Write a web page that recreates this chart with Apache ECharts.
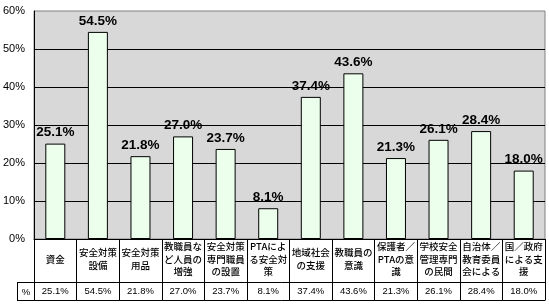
<!DOCTYPE html>
<html>
<head>
<meta charset="utf-8">
<script src="https://cdn.jsdelivr.net/npm/echarts@6/dist/echarts.min.js"></script>
<style>
html,body{margin:0;padding:0;background:#fff;}
#chart{width:549px;height:308px;}
</style>
</head>
<body>
<div id="chart"></div>
<script>
const categories = ['資金','安全対策\n設備','安全対策\n用品','教職員な\nど人員の\n増強','安全対策\n専門職員\nの設置','PTAによ\nる安全対\n策','地域社会\nの支援','教職員の\n意識','保護者／\nPTAの意\n識','学校安全\n管理専門\nの民間','自治体／\n教育委員\n会による','国／政府\nによる支\n援'];
const values = [25.1, 54.5, 21.8, 27.0, 23.7, 8.1, 37.4, 43.6, 21.3, 26.1, 28.4, 18.0];
const yMin = 0, yMax = 60, yStep = 10;
const rowLabel = '%';

const W = 549, H = 308;
const G = { left: 34, right: 4, top: 11, bottom: 69 };
const axisY = H - G.bottom;      // 239
const row1 = axisY + 43;         // 282
const row2 = axisY + 61;         // 300
const tableLeft = 17;

const chart = echarts.init(document.getElementById('chart'), null, { renderer: 'canvas' });
chart.setOption({
  animation: false,
  backgroundColor: '#fff',
  grid: {
    left: G.left, right: G.right, top: G.top, bottom: G.bottom,
    show: true, borderColor: '#808080', borderWidth: 1,
    backgroundColor: '#d8d8d8'
  },
  xAxis: [
    {
      type: 'category', data: categories, position: 'bottom',
      axisLine: { show: true, lineStyle: { color: '#000', width: 1 } },
      axisTick: { show: true, length: 61, lineStyle: { color: '#000', width: 1 } },
      axisLabel: {
        interval: 0, margin: 20, verticalAlign: 'middle', color: '#000',
        fontSize: 9.5, lineHeight: 12.5, fontWeight: 500, fontFamily: 'Noto Sans CJK JP'
      }
    },
    {
      type: 'category', data: values.map(v => v.toFixed(1) + '%'), position: 'bottom', offset: 43,
      axisLine: { show: false }, axisTick: { show: false },
      axisLabel: {
        interval: 0, margin: 9, verticalAlign: 'middle', color: '#000',
        fontSize: 9.5, fontFamily: 'Liberation Sans'
      }
    }
  ],
  yAxis: {
    type: 'value', min: yMin, max: yMax, interval: yStep,
    axisLine: { show: true, lineStyle: { color: '#000' } },
    axisTick: { show: false },
    axisLabel: { formatter: '{value}%', color: '#000', fontSize: 11, margin: 9, fontFamily: 'Liberation Sans', padding: [4, 0, 0, 0] },
    splitLine: { show: true, showMaxLine: false, lineStyle: { color: '#000', width: 1 } }
  },
  series: [{
    type: 'bar', data: values, xAxisIndex: 0, barWidth: 20,
    itemStyle: { color: '#ecffec', borderColor: '#000', borderWidth: 1 },
    label: {
      show: true, position: 'top', distance: 4,
      formatter: p => p.value.toFixed(1) + '%',
      color: '#000', fontSize: 13.5, fontWeight: 'bold', fontFamily: 'Liberation Sans'
    }
  }],
  graphic: [
    { type: 'line', shape: { x1: tableLeft, y1: row1 + 0.5, x2: W - G.right + 0.5, y2: row1 + 0.5 }, style: { stroke: '#000', lineWidth: 1 } },
    { type: 'line', shape: { x1: tableLeft, y1: row2 + 0.5, x2: W - G.right + 0.5, y2: row2 + 0.5 }, style: { stroke: '#000', lineWidth: 1 } },
    { type: 'line', shape: { x1: tableLeft + 0.5, y1: row1, x2: tableLeft + 0.5, y2: row2 + 1 }, style: { stroke: '#000', lineWidth: 1 } },
    { type: 'text', x: (tableLeft + G.left) / 2 + 0.5, y: (row1 + row2) / 2 + 1, style: { text: rowLabel, fill: '#000', fontSize: 9.5, fontFamily: 'Liberation Sans', align: 'center', verticalAlign: 'middle' } }
  ]
});
</script>
</body>
</html>
